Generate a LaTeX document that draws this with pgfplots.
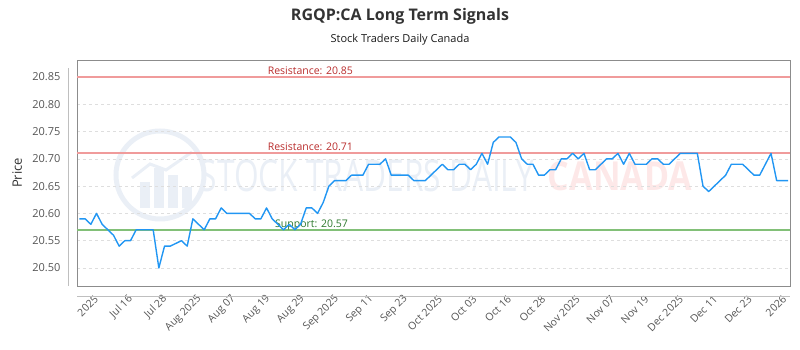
\documentclass[border=0pt]{standalone}
\usepackage{pgfplots}
\pgfplotsset{compat=1.18}
\usepackage{fontspec}
\setmainfont{Open Sans}
\definecolor{linec}{RGB}{33,150,243}
\definecolor{resl}{RGB}{240,155,155}
\definecolor{rest}{RGB}{185,45,45}
\definecolor{supl}{RGB}{130,192,120}
\definecolor{supt}{RGB}{45,120,45}
\definecolor{gridc}{RGB}{222,222,222}
\definecolor{boxc}{RGB}{140,140,140}
\definecolor{ticklc}{RGB}{85,85,85}
\definecolor{wmblue}{RGB}{234,239,246}
\definecolor{wmred}{RGB}{253,232,232}
\begin{document}
\begin{tikzpicture}
\path[use as bounding box] (0pt,0pt) rectangle (800pt,350pt);
% watermark
\draw[wmblue, line width=5pt] (160pt,175pt) circle (44pt);
\fill[wmblue] (140pt,142pt) rectangle (150pt,168pt);
\fill[wmblue] (154pt,142pt) rectangle (164pt,182pt);
\fill[wmblue] (168pt,142pt) rectangle (178pt,175pt);
\fill[wmblue] (182pt,142pt) rectangle (192pt,163pt);
\draw[wmblue, line width=3pt] (132pt,172pt) -- (150pt,186pt) -- (166pt,180pt) -- (192pt,198pt);
\node[text=wmblue, font=\fontsize{44}{46}\selectfont, xscale=0.72] at (367pt,174pt) {STOCK TRADERS DAILY};
\node[text=wmred, font=\bfseries\fontsize{40}{42}\selectfont, xscale=0.85] at (620pt,174pt) {CANADA};
% titles
\node[font=\bfseries\fontsize{16}{18}\selectfont, text=black!80] at (400pt,334pt) {RGQP:CA Long Term Signals};
\node[font=\fontsize{11}{13}\selectfont, text=black!90] at (400pt,310pt) {Stock Traders Daily Canada};
\begin{axis}[
  at={(77pt,64pt)}, anchor=south west,
  scale only axis, width=713pt, height=226pt,
  xmin=-0.44, xmax=125.35, ymin=20.467, ymax=20.881,
  axis line style={boxc},
  major tick length=0pt,
  ytick={20.50,20.55,20.60,20.65,20.70,20.75,20.80,20.85},
  yticklabel style={/pgf/number format/fixed, /pgf/number format/fixed zerofill, /pgf/number format/precision=2, /pgf/number format/assume math mode=true, font=\fontsize{11}{13}\selectfont, text=ticklc, xshift=-13pt},
  ymajorgrids, grid style={gridc, dashed},
  xtick={3.4,9.47,15.54,21.61,27.68,33.75,39.82,45.89,51.96,58.03,64.1,70.17,76.24,82.31,88.38,94.45,100.52,106.59,112.66,118.73,124.8},
  xticklabels={2025,Jul 16,Jul 28,Aug 2025,Aug 07,Aug 19,Aug 29,Sep 2025,Sep 11,Sep 23,Oct 2025,Oct 03,Oct 16,Oct 28,Nov 2025,Nov 07,Nov 19,Dec 2025,Dec 11,Dec 23,2026},
  xticklabel style={yshift=-9pt, rotate=45, anchor=east, font=\fontsize{10.5}{12}\selectfont, text=ticklc},
  ylabel={Price},
  ylabel style={at={(axis description cs:-0.084,0.5)}, anchor=center, font=\fontsize{13}{15}\selectfont, text=black!80},
  clip=false,
]
\addplot[resl, line width=1.8pt, forget plot] coordinates {(-0.44,20.85) (125.35,20.85)};
\addplot[resl, line width=1.8pt, forget plot] coordinates {(-0.44,20.71) (125.35,20.71)};
\addplot[supl, line width=1.8pt, forget plot] coordinates {(-0.44,20.57) (125.35,20.57)};
\node[anchor=base west, text=rest, font=\fontsize{10.5}{12}\selectfont] at (axis cs:32.6,20.855) {Resistance: 20.85};
\node[anchor=base west, text=rest, font=\fontsize{10.5}{12}\selectfont] at (axis cs:32.6,20.715) {Resistance: 20.71};
\node[anchor=base west, text=supt, font=\fontsize{10.5}{12}\selectfont] at (axis cs:33.9,20.575) {Support: 20.57};
\addplot[linec, line width=1.4pt, line join=round] coordinates {
(0,20.59) (1,20.59) (2,20.58) (3,20.60) (4,20.58) (5,20.57) (6,20.56) (7,20.54) (8,20.55) (9,20.55)
(10,20.57) (11,20.57) (12,20.57) (13,20.57) (14,20.50) (15,20.54) (16,20.54) (17,20.545) (18,20.55) (19,20.54)
(20,20.59) (21,20.58) (22,20.57) (23,20.59) (24,20.59) (25,20.61) (26,20.60) (27,20.60) (28,20.60) (29,20.60)
(30,20.60) (31,20.59) (32,20.59) (33,20.61) (34,20.59) (35,20.58) (36,20.57) (37,20.58) (38,20.57) (39,20.58)
(40,20.61) (41,20.61) (42,20.60) (43,20.62) (44,20.65) (45,20.66) (46,20.66) (47,20.66) (48,20.67) (49,20.67)
(50,20.67) (51,20.69) (52,20.69) (53,20.69) (54,20.70) (55,20.67) (56,20.67) (57,20.67) (58,20.67) (59,20.66)
(60,20.66) (61,20.66) (62,20.67) (63,20.68) (64,20.69) (65,20.68) (66,20.68) (67,20.69) (68,20.69) (69,20.68)
(70,20.69) (71,20.71) (72,20.69) (73,20.73) (74,20.74) (75,20.74) (76,20.74) (77,20.73) (78,20.70) (79,20.69)
(80,20.69) (81,20.67) (82,20.67) (83,20.68) (84,20.68) (85,20.70) (86,20.70) (87,20.71) (88,20.70) (89,20.71)
(90,20.68) (91,20.68) (92,20.69) (93,20.70) (94,20.70) (95,20.71) (96,20.69) (97,20.71) (98,20.69) (99,20.69)
(100,20.69) (101,20.70) (102,20.70) (103,20.69) (104,20.69) (105,20.70) (106,20.71) (107,20.71) (108,20.71) (109,20.71)
(110,20.65) (111,20.64) (112,20.65) (113,20.66) (114,20.67) (115,20.69) (116,20.69) (117,20.69) (118,20.68) (119,20.67)
(120,20.67) (121,20.69) (122,20.71) (123,20.66) (124,20.66) (125,20.66)
};
\end{axis}
% offset axis lines
\draw[black!25, line width=0.8pt] (68pt,64pt) -- (68pt,282pt);
\draw[black!25, line width=0.8pt] (77pt,54pt) -- (790pt,54pt);
\end{tikzpicture}
\end{document}
